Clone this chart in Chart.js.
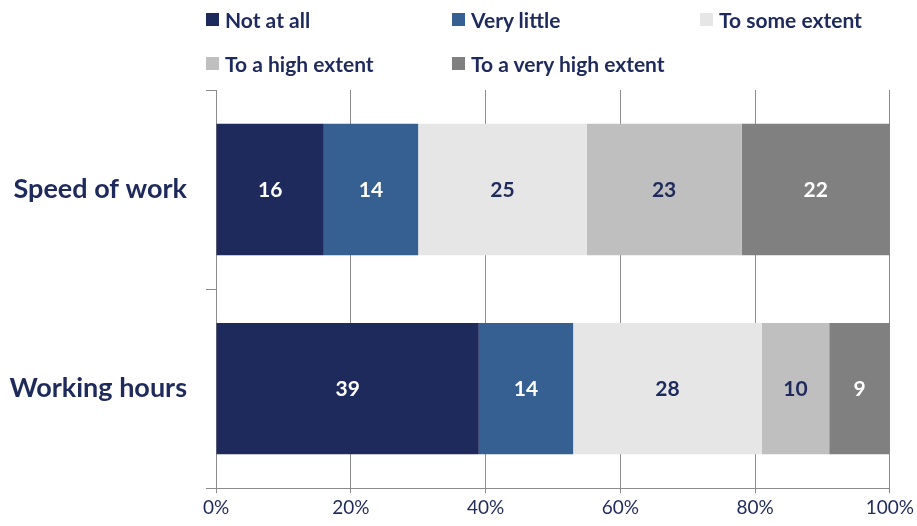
<!DOCTYPE html>
<html>
<head>
<meta charset="utf-8">
<script src="https://cdn.jsdelivr.net/npm/chart.js@4/dist/chart.umd.min.js"></script>
<style>
  html, body { margin: 0; padding: 0; background: #fff; }
  #wrap { position: relative; width: 917px; height: 526px; }
  #legend { position: absolute; left: 0; top: 0; width: 917px; height: 90px; font-family: Lato, "Open Sans", sans-serif; font-weight: bold; font-size: 21px; color: #1f2a5c; }
  .item { position: absolute; display: flex; align-items: center; white-space: nowrap; }
  .box { width: 13px; height: 13px; margin-right: 6px; }
</style>
</head>
<body>
<div id="wrap">
  <canvas id="myChart" width="917" height="526"></canvas>
  <div id="legend"></div>
</div>
<script>
"use strict";
const categories = ["Speed of work", "Working hours"];
const seriesNames = ["Not at all", "Very little", "To some extent", "To a high extent", "To a very high extent"];
const notAtAll = [16, 39];
const veryLittle = [14, 14];
const someExtent = [25, 28];
const highExtent = [23, 10];
const veryHighExtent = [22, 9];
const tickValues = [0, 20, 40, 60, 80, 100];
const seriesValues = [notAtAll, veryLittle, someExtent, highExtent, veryHighExtent];
const barColors = [
    "#1f2a5c", //not at all
    "#366092", //very little
    "#e6e6e6", //some extent
    "#bfbfbf", //high extent
    "#808080"  //very high extent
];
const labelColors = ["#ffffff", "#ffffff", "#1f2a5c", "#1f2a5c", "#ffffff"];
const navy = "#1f2a5c";

// legend positions (two rows, fixed columns like the original)
const legendSpots = [[206, 19], [452, 19], [700, 19], [206, 63], [452, 63]];
const legendDiv = document.getElementById("legend");
seriesNames.forEach((name, i) => {
    const item = document.createElement("div");
    item.className = "item";
    item.style.left = legendSpots[i][0] + "px";
    item.style.top = (legendSpots[i][1] - 12) + "px";
    item.style.height = "24px";
    const box = document.createElement("span");
    box.className = "box";
    box.style.background = barColors[i];
    const txt = document.createElement("span");
    txt.textContent = name;
    item.appendChild(box);
    item.appendChild(txt);
    legendDiv.appendChild(item);
});

// draws the value in the middle of each segment
const valueLabels = {
    id: "valueLabels",
    afterDatasetsDraw(chart) {
        const ctx = chart.ctx;
        ctx.save();
        ctx.font = "bold 21px Lato, 'Open Sans', sans-serif";
        ctx.textAlign = "center";
        ctx.textBaseline = "middle";
        chart.data.datasets.forEach((ds, i) => {
            const meta = chart.getDatasetMeta(i);
            meta.data.forEach((bar, j) => {
                const p = bar.getCenterPoint();
                ctx.fillStyle = labelColors[i];
                ctx.fillText(String(ds.data[j]), p.x, p.y + 1);
            });
        });
        ctx.restore();
    }
};

function chartMaken() {
    return new Chart("myChart", {
        type: "bar",
        data: {
            labels: categories,
            datasets: seriesValues.map((vals, i) => ({
                label: seriesNames[i],
                data: vals,
                backgroundColor: barColors[i],
                borderWidth: 0,
                barPercentage: 0.66,
                categoryPercentage: 1
            }))
        },
        options: {
            indexAxis: "y",
            responsive: false,
            animation: false,
            layout: { padding: { top: 90, right: 22, left: 8, bottom: 4 } },
            plugins: {
                legend: { display: false },
                tooltip: { enabled: false }
            },
            scales: {
                x: {
                    stacked: true,
                    min: 0,
                    max: 100,
                    afterBuildTicks: (axis) => { axis.ticks = tickValues.map(v => ({ value: v })); },
                    grid: { color: "#8c8c8c", lineWidth: 1, tickLength: 5 },
                    border: { display: true, color: "#8c8c8c" },
                    ticks: {
                        color: navy,
                        font: { family: "Lato, 'Open Sans', sans-serif", size: 19 },
                        padding: 3,
                        maxRotation: 0,
                        callback: (v) => v + "%"
                    }
                },
                y: {
                    stacked: true,
                    afterFit: (axis) => { axis.width = 208; },
                    grid: { drawOnChartArea: false, color: "#8c8c8c", tickLength: 10, offset: true },
                    border: { display: true, color: "#8c8c8c" },
                    ticks: {
                        color: navy,
                        font: { family: "Lato, 'Open Sans', sans-serif", size: 27, weight: "bold" },
                        padding: 19
                    }
                }
            }
        },
        plugins: [valueLabels]
    });
}
const chart = chartMaken();
</script>
</body>
</html>
